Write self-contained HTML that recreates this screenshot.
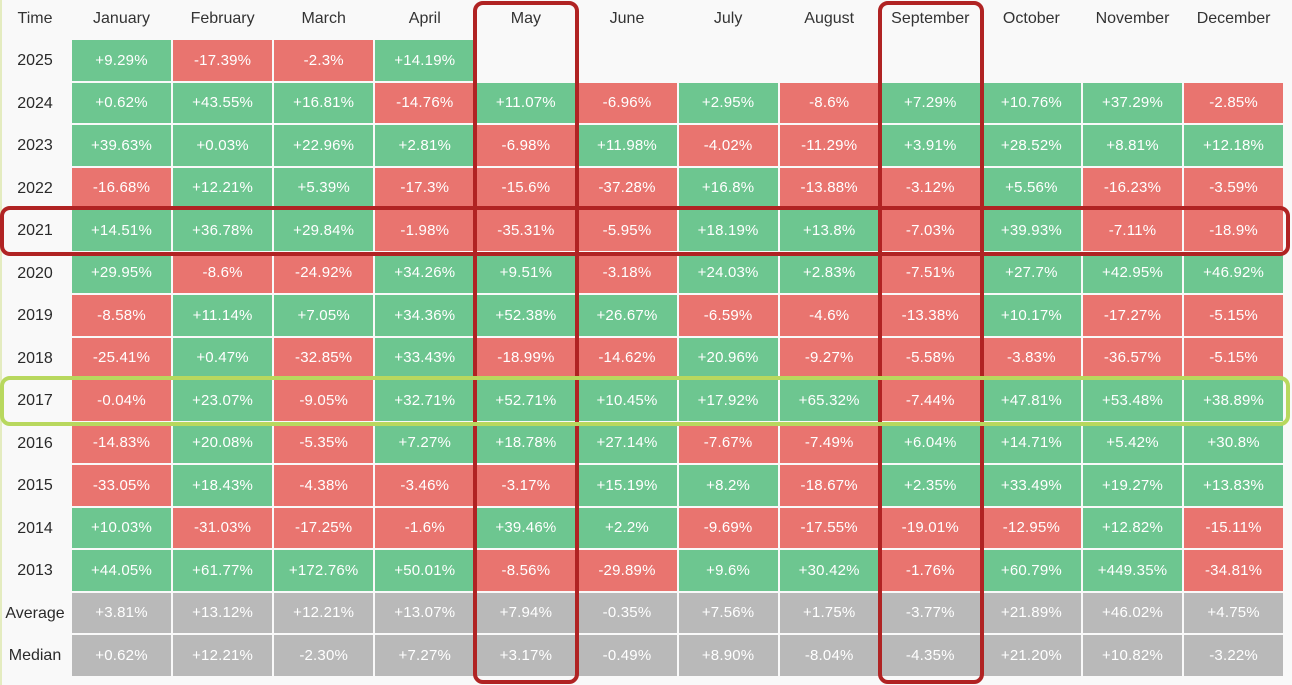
<!DOCTYPE html>
<html><head><meta charset="utf-8"><style>
body{margin:0;width:1292px;height:685px;background:#f9f9f9;overflow:hidden;font-family:"Liberation Sans",sans-serif;position:relative}
#wrap{position:absolute;left:0;top:0;width:1292px;height:685px}
.cell{position:absolute;color:#fff;font-size:15px;display:flex;align-items:center;justify-content:center;letter-spacing:0.2px}
.hdr{position:absolute;color:#333;font-size:16px;display:flex;align-items:center;justify-content:center}
.rl{font-weight:500;color:#2a2a2a}
.ov{position:absolute;box-sizing:border-box;border-radius:10px}
</style></head><body>
<div id="wrap">
<div style="position:absolute;left:0;top:0;width:2px;height:685px;background:#e4ecc0"></div>
</div>
<script>
const months=["January","February","March","April","May","June","July","August","September","October","November","December"];
const rowLabels=["2025","2024","2023","2022","2021","2020","2019","2018","2017","2016","2015","2014","2013","Average","Median"];
const values=[
[9.29,-17.39,-2.3,14.19,null,null,null,null,null,null,null,null],
[0.62,43.55,16.81,-14.76,11.07,-6.96,2.95,-8.6,7.29,10.76,37.29,-2.85],
[39.63,0.03,22.96,2.81,-6.98,11.98,-4.02,-11.29,3.91,28.52,8.81,12.18],
[-16.68,12.21,5.39,-17.3,-15.6,-37.28,16.8,-13.88,-3.12,5.56,-16.23,-3.59],
[14.51,36.78,29.84,-1.98,-35.31,-5.95,18.19,13.8,-7.03,39.93,-7.11,-18.9],
[29.95,-8.6,-24.92,34.26,9.51,-3.18,24.03,2.83,-7.51,27.7,42.95,46.92],
[-8.58,11.14,7.05,34.36,52.38,26.67,-6.59,-4.6,-13.38,10.17,-17.27,-5.15],
[-25.41,0.47,-32.85,33.43,-18.99,-14.62,20.96,-9.27,-5.58,-3.83,-36.57,-5.15],
[-0.04,23.07,-9.05,32.71,52.71,10.45,17.92,65.32,-7.44,47.81,53.48,38.89],
[-14.83,20.08,-5.35,7.27,18.78,27.14,-7.67,-7.49,6.04,14.71,5.42,30.8],
[-33.05,18.43,-4.38,-3.46,-3.17,15.19,8.2,-18.67,2.35,33.49,19.27,13.83],
[10.03,-31.03,-17.25,-1.6,39.46,2.2,-9.69,-17.55,-19.01,-12.95,12.82,-15.11],
[44.05,61.77,172.76,50.01,-8.56,-29.89,9.6,30.42,-1.76,60.79,449.35,-34.81]
];
const averages=["+3.81%","+13.12%","+12.21%","+13.07%","+7.94%","-0.35%","+7.56%","+1.75%","-3.77%","+21.89%","+46.02%","+4.75%"];
const medians=["+0.62%","+12.21%","-2.30%","+7.27%","+3.17%","-0.49%","+8.90%","-8.04%","-4.35%","+21.20%","+10.82%","-3.22%"];

const W=document.getElementById('wrap');
const X0=72,PX=101.1,CW=99,Y0=40,PY=42.5,CH=40.5;
function colX(i){return X0+i*PX;}
function rowY(j){return Y0+j*PY;}
function fmt(v){return (v>=0?"+":"")+v+"%";}
let h=document.createElement('div');h.className='hdr';


h.style.cssText='left:0;top:0;width:70px;height:38px';h.textContent='Time';W.appendChild(h);
months.forEach((m,i)=>{const d=document.createElement('div');d.className='hdr';


d.style.left=colX(i)+'px';d.style.top='0px';d.style.width=CW+'px';d.style.height='38px';d.textContent=m;W.appendChild(d);});
rowLabels.forEach((r,j)=>{const d=document.createElement('div');d.className='hdr rl';


d.style.left='0px';d.style.top=(rowY(j)+1)+'px';d.style.width='70px';d.style.height=CH+'px';d.textContent=r;W.appendChild(d);
for(let i=0;i<12;i++){let txt,bg;
 if(j<values.length){const v=values[j][i];if(v===null)continue;txt=fmt(v);bg=v>=0?'#6dc690':'#e9746f';}
 else{txt=(j===13?averages:medians)[i];bg='#b9b9b9';}
 const c=document.createElement('div');c.className='cell';
 
 
 c.style.left=colX(i)+'px';c.style.top=rowY(j)+'px';c.style.width=CW+'px';c.style.height=CH+'px';c.style.background=bg;c.textContent=txt;W.appendChild(c);}
});
function ov(name,l,t,w,hh,col){const o=document.createElement('div');o.className='ov';


o.style.cssText=`left:${l}px;top:${t}px;width:${w}px;height:${hh}px;border:4px solid ${col}`;W.appendChild(o);}
ov('may-highlight',colX(4)-3,1,CW+7,683,'#b02323');
ov('september-highlight',colX(8)-3,1,CW+7,683,'#b02323');
ov('row-2021-highlight',0,rowY(4)-4,1290,CH+9,'#b02323');
ov('row-2017-highlight',0,rowY(8)-4,1290,CH+9,'#b8d85e');
</script>
</body></html>
